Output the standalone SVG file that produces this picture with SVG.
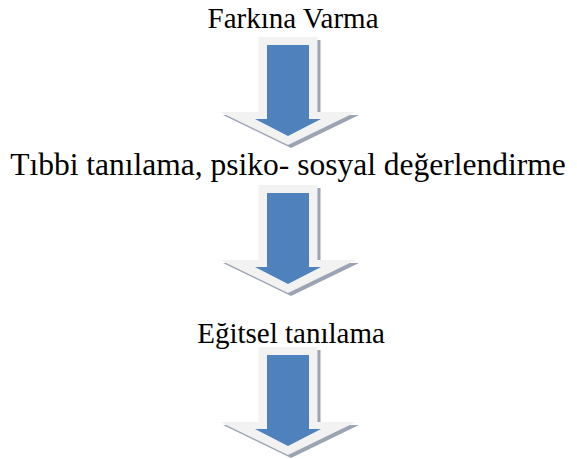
<svg xmlns="http://www.w3.org/2000/svg" width="577" height="459" viewBox="0 0 577 459">
<style>
.t{font-family:"Liberation Serif","Times New Roman",serif;fill:#000;text-anchor:middle}
.sh{fill:#9aa4b2}
.lt{fill:#f2f2f2}
.bl{fill:#4f81bd}
</style>
<defs>
<g id="arr">
<polygon class="sh" points="-26.5,3 32.5,3 32.5,78 71,78 3,111 -65,78 -26.5,78"/>
<polygon class="lt" points="-29.5,0 29.5,0 29.5,75 68,75 0,108 -68,75 -29.5,75"/>
<polygon class="bl" points="-21,8 21,8 21,82 33,82 0,99 -33,82 -21,82"/>
</g>
</defs>
<rect width="577" height="459" fill="#fff"/>
<g id="connectors">
<use href="#arr" x="288" y="37"/>
<use href="#arr" x="288" y="185"/>
<use href="#arr" x="288" y="347"/>
</g>
<g id="n1"><text class="t" x="293" y="28" font-size="29">Farkına Varma</text></g>
<g id="n2"><text class="t" x="288" y="175" font-size="31.5">Tıbbi tanılama, psiko- sosyal değerlendirme</text></g>
<g id="n3"><text class="t" x="291" y="343" font-size="29">Eğitsel tanılama</text></g>
</svg>
